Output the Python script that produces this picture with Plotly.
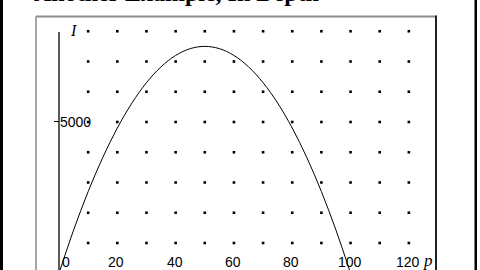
import plotly.graph_objects as go

# ---- data ----
p_vals = [0, 5, 10, 15, 20, 25, 30, 35, 40, 45, 50, 55, 60, 65, 70, 75, 80, 85, 90, 95, 100]
I_vals = [0, 1425, 2700, 3825, 4800, 5625, 6300, 6825, 7200, 7425, 7500,
          7425, 7200, 6825, 6300, 5625, 4800, 3825, 2700, 1425, 0]
grid_p = [10, 20, 30, 40, 50, 60, 70, 80, 90, 100, 110, 120]
grid_I = [1000, 2000, 3000, 4000, 5000, 6000, 7000, 8000]
x_ticks = [0, 20, 40, 60, 80, 100, 120]
y_ticks = [5000]
title_text = "Another Example, In Depth"
x_label = "p"
y_label = "I"

W, H = 480, 270
X_RANGE = [-20.24, 144.4]
Y_RANGE = [107, 9033]

dot_x = [px for iv in grid_I for px in grid_p]
dot_y = [iv for iv in grid_I for px in grid_p]

fig = go.Figure()
fig.add_trace(go.Scatter(x=dot_x, y=dot_y, mode="markers",
                         marker=dict(color="black", size=2.6, symbol="square"),
                         hoverinfo="skip", showlegend=False))
fig.add_trace(go.Scatter(x=p_vals, y=I_vals, mode="lines",
                         line=dict(color="black", width=1, shape="spline"),
                         hoverinfo="skip", showlegend=False))

shapes = [
    # outer black side bars
    dict(type="rect", xref="paper", yref="paper", x0=0, x1=3 / W, y0=0, y1=1,
         fillcolor="black", line=dict(width=0)),
    dict(type="rect", xref="paper", yref="paper", x0=474.5 / W, x1=477 / W, y0=0, y1=1,
         fillcolor="black", line=dict(width=0)),
    # inner frame
    dict(type="line", xref="paper", yref="paper", x0=36 / W, x1=436 / W,
         y0=1 - 16.5 / H, y1=1 - 16.5 / H, line=dict(color="#8a8a8a", width=2)),
    dict(type="line", xref="paper", yref="paper", x0=36 / W, x1=36 / W,
         y0=-0.1, y1=1 - 16.5 / H, line=dict(color="#8a8a8a", width=1.5)),
    dict(type="line", xref="paper", yref="paper", x0=436 / W, x1=436 / W,
         y0=-0.1, y1=1 - 15.5 / H, line=dict(color="#222222", width=2)),
    # vertical axis line
    dict(type="line", xref="x", yref="paper", x0=0, x1=0,
         y0=-0.1, y1=1 - 32 / H, line=dict(color="black", width=1.3)),
]

annotations = [
    dict(text=f"<b>{title_text}</b>", xref="paper", yref="paper",
         x=32 / W, y=1 - 8 / H, xanchor="left", yanchor="bottom", showarrow=False,
         font=dict(family="Liberation Serif", size=24, color="black")),
    dict(text=f"<i>{y_label}</i>", xref="x", yref="paper", x=0, y=1 - 30 / H,
         xanchor="left", yanchor="middle", xshift=9, showarrow=False,
         font=dict(family="Liberation Serif", size=16, color="black")),
    dict(text=f"<i>{x_label}</i>", xref="paper", yref="paper", x=428 / W, y=10 / H,
         xanchor="center", yanchor="middle", showarrow=False,
         font=dict(family="Liberation Serif", size=17, color="black")),
]
for t in x_ticks:
    annotations.append(dict(
        text=str(t), xref="x", yref="paper", x=t, y=8.5 / H,
        xanchor="left" if t == 0 else "center", yanchor="middle",
        xshift=1 if t == 0 else -1, showarrow=False,
        font=dict(family="Liberation Sans", size=14, color="black")))

fig.update_layout(
    width=W, height=H, margin=dict(l=0, r=0, t=0, b=0),
    paper_bgcolor="white", plot_bgcolor="white",
    shapes=shapes, annotations=annotations, showlegend=False,
    xaxis=dict(range=X_RANGE, showgrid=False, zeroline=False, showline=False,
               showticklabels=False, ticks="", fixedrange=True),
    yaxis=dict(range=Y_RANGE, showgrid=False, zeroline=False, showline=False,
               anchor="free", position=59 / W, side="right",
               tickvals=y_ticks, ticks="inside", ticklen=5, tickcolor="black",
               tickwidth=1,
               tickfont=dict(family="Liberation Sans", size=14, color="black"),
               fixedrange=True),
)

fig.write_html("out.html", config={"displayModeBar": False})
